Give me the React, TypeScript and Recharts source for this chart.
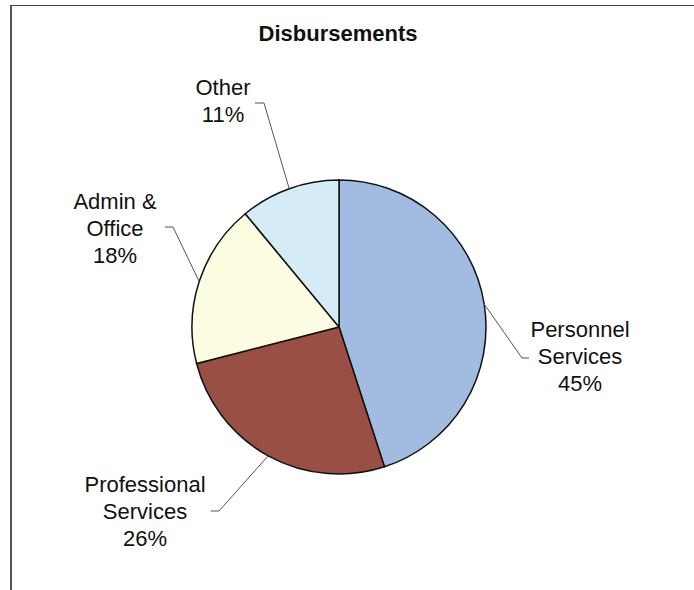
import { PieChart, Pie, Cell } from 'recharts';

const categories = ['Personnel Services', 'Professional Services', 'Admin & Office', 'Other'];
const labelLines = [['Personnel', 'Services'], ['Professional', 'Services'], ['Admin &', 'Office'], ['Other']];
const values = [45, 26, 18, 11];
const colors = ['#a2bbe0', '#9a4f45', '#fdfde3', '#d5ebf5'];

// where each label sits, relative to the pie centre (text centre, elbow of the leader, leader end)
const labelLayout = [
  { tx: 241, ty: 29, ex: 183, ey: 31, hx: 190 },
  { tx: -194, ty: 184, ex: -120, ey: 184, hx: -128 },
  { tx: -224, ty: -99, ex: -166, ey: -100, hx: -174 },
  { tx: -116, ty: -226, ex: -75, ey: -224, hx: -84 },
];

const data = categories.map((name, i) => ({ name, value: values[i] }));

const RAD = Math.PI / 180;
const FONT = '"Liberation Sans", Arial, sans-serif';

function renderLabel(props: any) {
  const { cx, cy, midAngle, outerRadius, index, percent } = props;
  const lay = labelLayout[index];
  const sx = cx + outerRadius * Math.cos(-midAngle * RAD);
  const sy = cy + outerRadius * Math.sin(-midAngle * RAD);
  const lines = [...labelLines[index], `${Math.round(percent * 100)}%`];
  const lh = 27;
  const top = cy + lay.ty - ((lines.length - 1) * lh) / 2;
  return (
    <g>
      <polyline
        points={`${sx},${sy} ${cx + lay.ex},${cy + lay.ey} ${cx + lay.hx},${cy + lay.ey}`}
        fill="none"
        stroke="#555"
        strokeWidth={1}
      />
      <text x={cx + lay.tx} y={top} textAnchor="middle" fontFamily={FONT} fontSize={22} fill="#111">
        {lines.map((l, i) => (
          <tspan key={i} x={cx + lay.tx} y={top + i * lh} dominantBaseline="central">
            {l}
          </tspan>
        ))}
      </text>
    </g>
  );
}

export default function App() {
  return (
    <div style={{ position: 'absolute', left: 0, top: 0, width: 694, height: 590, background: '#fff' }}>
      <div
        style={{
          position: 'absolute', left: 10, top: 5, width: 682, height: 590,
          borderTop: '1px solid #444', borderLeft: '2px solid #555',
        }}
      />
      <div
        style={{
          position: 'absolute', left: 0, width: 676, top: 21, textAlign: 'center',
          fontFamily: FONT, fontWeight: 'bold', fontSize: 22, color: '#111',
        }}
      >
        Disbursements
      </div>
      <PieChart
        width={694}
        height={590}
        margin={{ top: 0, right: 0, bottom: 0, left: 0 }}
        style={{ position: 'absolute', left: 0, top: 0 }}
      >
        <Pie
          data={data}
          dataKey="value"
          nameKey="name"
          cx={339}
          cy={327}
          outerRadius={147}
          startAngle={90}
          endAngle={-270}
          stroke="#111"
          strokeWidth={1.5}
          label={renderLabel}
          labelLine={false}
          isAnimationActive={false}
        >
          {data.map((d, i) => (
            <Cell key={d.name} fill={colors[i]} />
          ))}
        </Pie>
      </PieChart>
    </div>
  );
}
